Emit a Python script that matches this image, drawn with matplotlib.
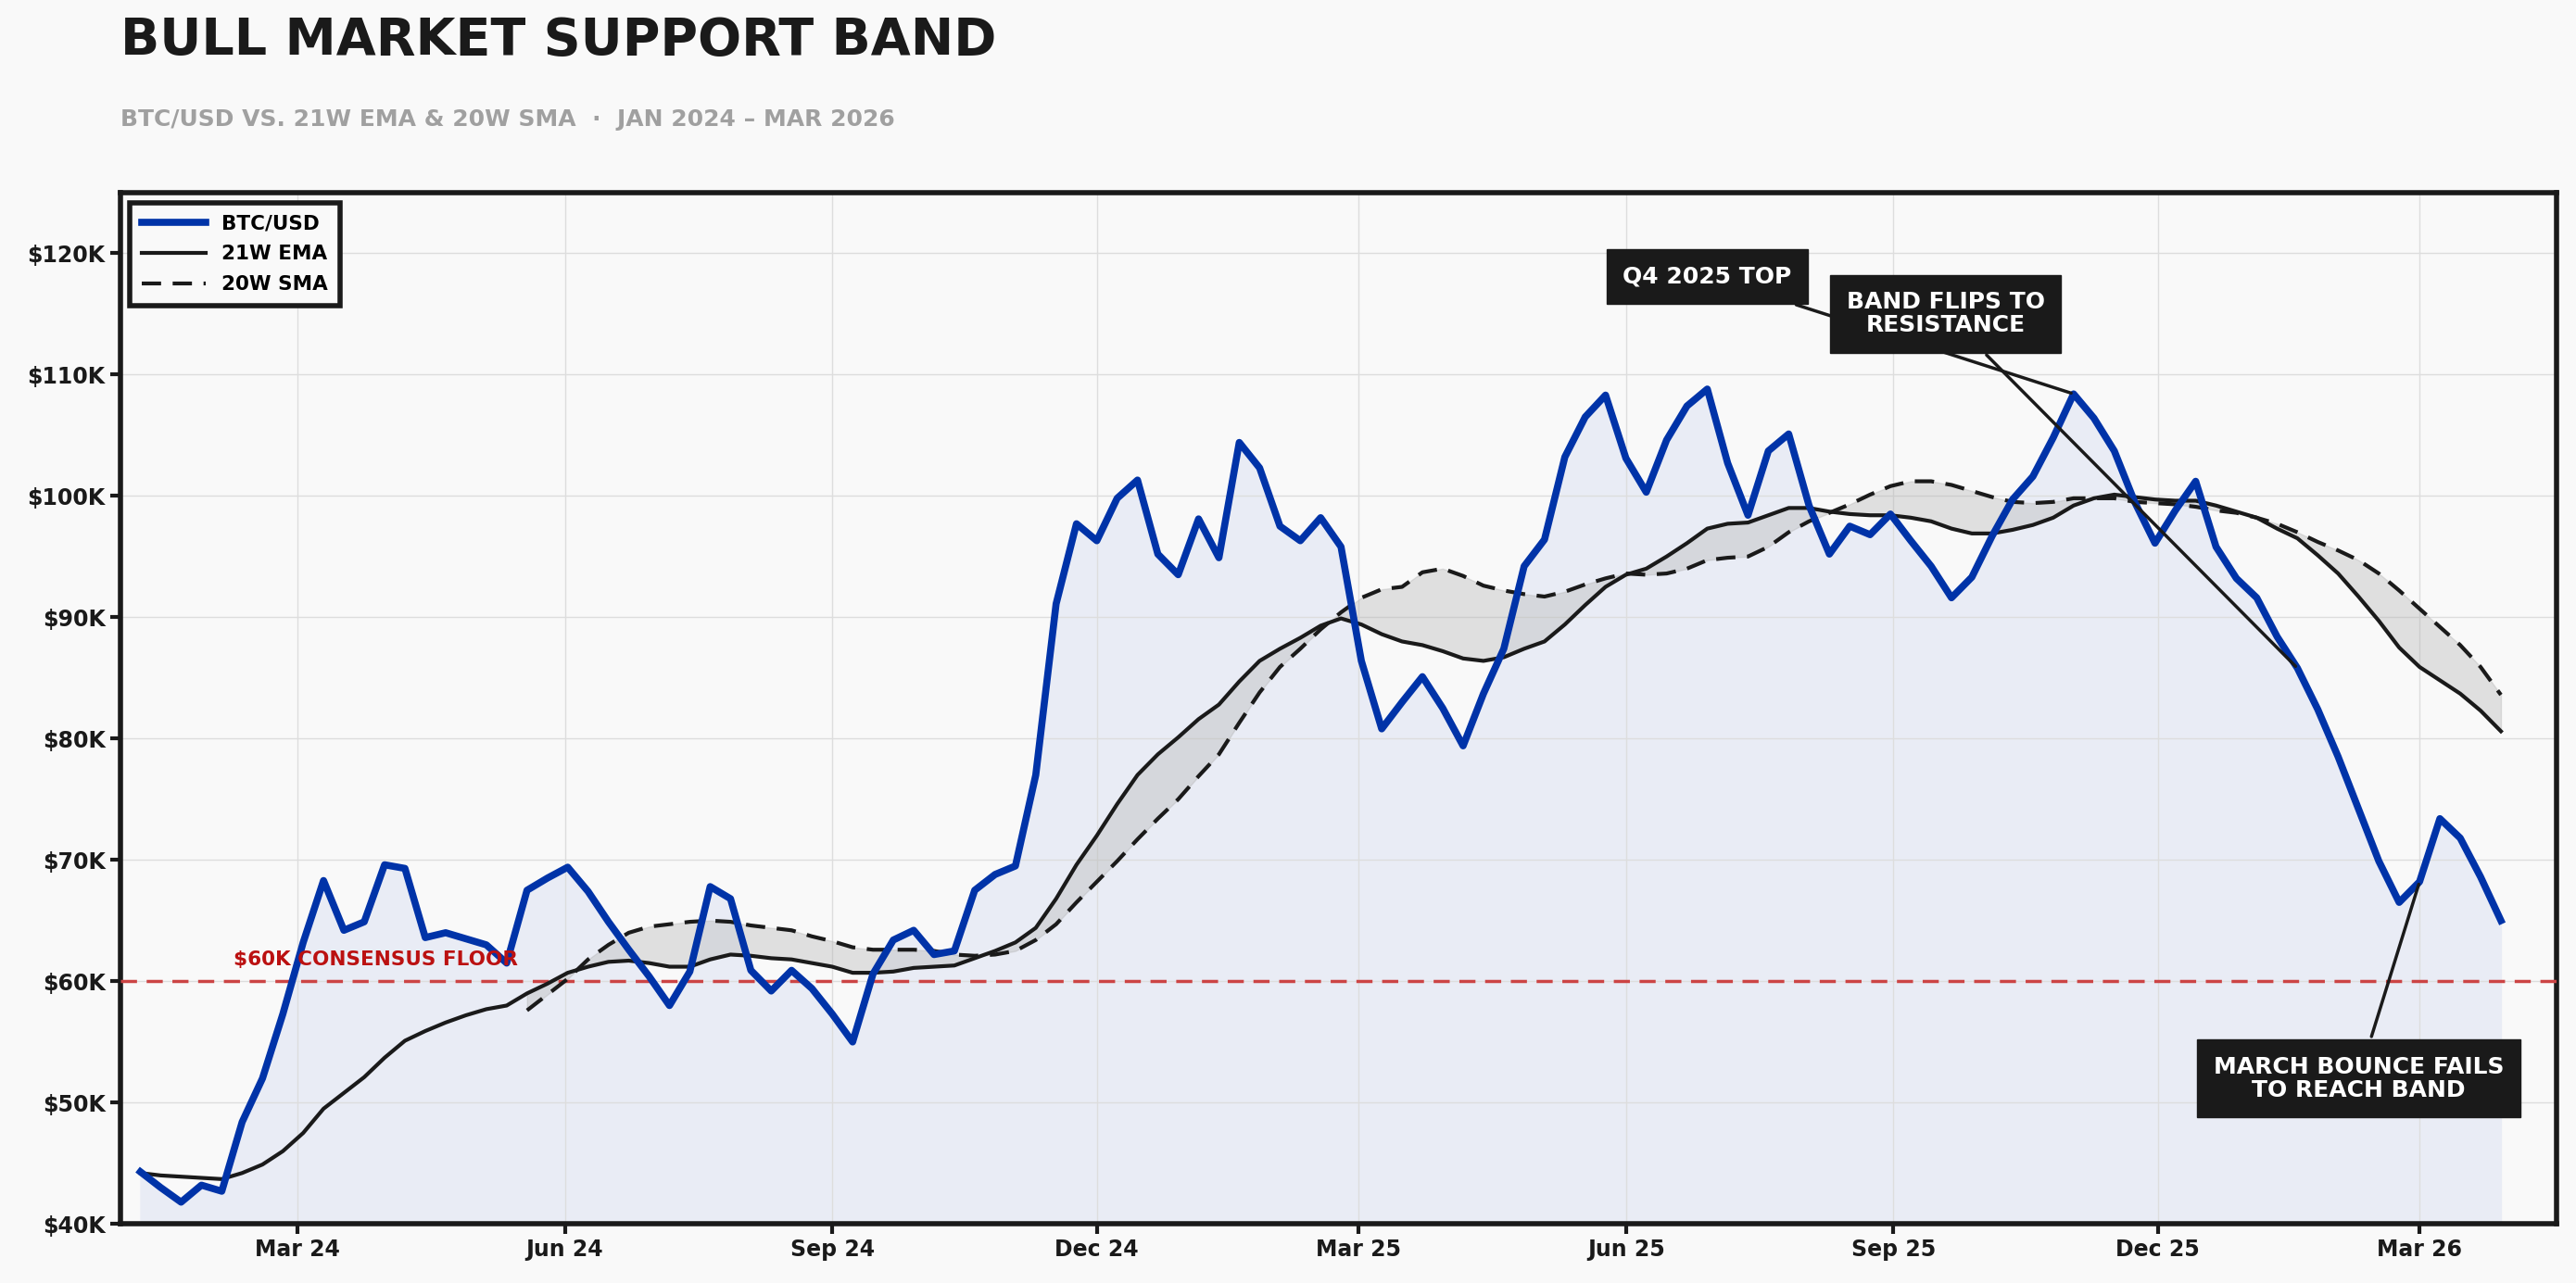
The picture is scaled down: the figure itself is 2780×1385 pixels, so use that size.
import numpy as np
import pandas as pd
import matplotlib.pyplot as plt
import matplotlib.dates as mdates
from matplotlib.ticker import FuncFormatter

# weekly closes, $K
btc = [44.3, 43.0, 41.8, 43.2, 42.7, 48.4, 52.0, 57.3, 63.2, 68.3, 64.2, 64.9, 69.6, 69.3, 63.6, 64.0,
       63.5, 63.0, 61.5, 67.5, 68.5, 69.4, 67.4, 64.9, 62.6, 60.4, 58.0, 60.8, 67.8, 66.8, 60.9,
       59.2, 60.9, 59.4, 57.3, 55.0, 60.6, 63.4, 64.2, 62.2, 62.5, 67.5, 68.8, 69.5, 77.0, 91.1,
       97.7, 96.3, 99.8, 101.3, 95.2, 93.5, 98.1, 94.9, 104.4, 102.3, 97.5, 96.3, 98.2, 95.8, 86.4, 80.8,
       83.0, 85.1, 82.5, 79.4, 83.7, 87.4, 94.2, 96.4, 103.2, 106.5, 108.3, 103.1, 100.3, 104.6, 107.4,
       108.8, 102.7, 98.4, 103.7, 105.1, 99.2, 95.2, 97.5, 96.8, 98.5, 96.3, 94.2, 91.6, 93.3,
       96.7, 99.7, 101.6, 104.8, 108.4, 106.4, 103.7, 99.5, 96.1, 98.8, 101.2, 95.8, 93.2, 91.6, 88.4,
       85.8, 82.4, 78.5, 74.2, 69.9, 66.5, 68.2, 73.4, 71.8, 68.6, 65.0]
ema21 = [44.2, 44.0, 43.9, 43.8, 43.7, 44.2, 44.9, 46.0, 47.5, 49.5, 50.8, 52.1, 53.7, 55.1, 55.9, 56.6,
         57.2, 57.7, 58.0, 59.0, 59.8, 60.7, 61.2, 61.6, 61.7, 61.5, 61.2, 61.2, 61.8, 62.2, 62.1,
         61.9, 61.8, 61.5, 61.2, 60.7, 60.7, 60.8, 61.1, 61.2, 61.3, 61.9, 62.5, 63.2, 64.4, 66.8,
         69.6, 72.0, 74.6, 77.0, 78.7, 80.1, 81.6, 82.8, 84.7, 86.4, 87.4, 88.3, 89.3, 89.9, 89.4, 88.6,
         88.0, 87.7, 87.2, 86.6, 86.4, 86.7, 87.4, 88.0, 89.4, 91.0, 92.5, 93.5, 94.0, 95.0, 96.1,
         97.3, 97.7, 97.8, 98.4, 99.0, 99.0, 98.7, 98.5, 98.4, 98.4, 98.2, 97.9, 97.3, 96.9,
         96.9, 97.2, 97.6, 98.2, 99.2, 99.8, 100.1, 99.9, 99.7, 99.6, 99.6, 99.2, 98.7, 98.2, 97.3,
         96.5, 95.1, 93.6, 91.7, 89.7, 87.5, 85.9, 84.8, 83.7, 82.3, 80.6]
sma20 = [np.nan] * 19 + [57.6, 58.9, 60.2, 61.8, 63.0, 64.0, 64.5, 64.7, 64.9, 65.0, 64.9, 64.6,
         64.4, 64.2, 63.7, 63.3, 62.8, 62.6, 62.6, 62.6, 62.5, 62.2, 62.1, 62.2, 62.5, 63.4, 64.7,
         66.5, 68.2, 69.9, 71.7, 73.4, 75.0, 76.9, 78.7, 81.3, 83.8, 85.9, 87.4, 89.0, 90.4, 91.6, 92.3,
         92.5, 93.7, 94.0, 93.4, 92.6, 92.2, 91.9, 91.7, 92.1, 92.7, 93.2, 93.6, 93.5, 93.6, 94.0,
         94.7, 94.9, 95.0, 95.8, 97.0, 97.9, 98.6, 99.3, 100.1, 100.8, 101.2, 101.2, 100.9, 100.4,
         99.9, 99.5, 99.4, 99.5, 99.8, 99.8, 99.8, 99.5, 99.4, 99.3, 99.1, 98.8, 98.6, 98.2, 97.7,
         97.0, 96.2, 95.5, 94.7, 93.6, 92.2, 90.7, 89.2, 87.7, 85.9, 83.6]
dates = pd.date_range('2024-01-07', periods=len(btc), freq='W')

btc = np.array(btc)
ema21 = np.array(ema21)
sma20 = np.array(sma20)

plt.rcParams['font.family'] = ['DejaVu Sans']
bg = '#f9f9f9'
fig = plt.figure(figsize=(27.8, 13.85), dpi=100, facecolor=bg)
ax = fig.add_axes([0.0466, 0.046, 0.9457, 0.804], facecolor=bg)

ax.fill_between(dates, 40, btc, color='#e9ecf5', zorder=1)
ok = ~np.isnan(sma20)
ax.fill_between(dates[ok], ema21[ok], sma20[ok], color='#b0b0b0', alpha=0.35, zorder=2)
ax.plot(dates, btc, color='#0033a8', lw=5.5, label='BTC/USD', zorder=5)
ax.plot(dates, ema21, color='#1a1a1a', lw=3, label='21W EMA', zorder=4)
ax.plot(dates, sma20, color='#1a1a1a', lw=3, ls=(0, (5, 3)), label='20W SMA', zorder=4)

ax.axhline(60, color='#cc4444', lw=2.5, ls=(0, (5, 3)), zorder=3)
ax.text(pd.Timestamp('2024-02-08'), 61.3, '$60K CONSENSUS FLOOR', color='#bb1111',
        fontsize=15.5, fontweight='bold', zorder=6)

ax.set_ylim(40, 125)
ax.set_xlim(pd.Timestamp('2023-12-31'), pd.Timestamp('2026-04-17'))
ax.yaxis.set_major_locator(plt.MultipleLocator(10))
ax.yaxis.set_major_formatter(FuncFormatter(lambda v, p: f'${v:.0f}K'))
ax.xaxis.set_major_locator(mdates.MonthLocator(bymonth=[3, 6, 9, 12]))
ax.xaxis.set_major_formatter(mdates.DateFormatter('%b %y'))
ax.tick_params(labelsize=17, width=3, length=8, color='#1a1a1a')
for lab in ax.get_xticklabels() + ax.get_yticklabels():
    lab.set_fontweight('bold')
    lab.set_color('#1a1a1a')
ax.grid(True, color='#dddddd', lw=1)
for s in ax.spines.values():
    s.set_linewidth(4)
    s.set_color('#1a1a1a')

leg = ax.legend(loc='upper left', prop={'weight': 'bold', 'size': 15.5},
                fancybox=False, framealpha=1, facecolor=bg, edgecolor='#1a1a1a',
                handlelength=3.2, borderpad=0.6, labelspacing=0.6)
leg.get_frame().set_linewidth(4)

box = dict(boxstyle='square,pad=0.7', fc='#1a1a1a', ec='#1a1a1a')
akw = dict(arrowstyle='-', color='#1a1a1a', lw=2.5)
ax.annotate('Q4 2025 TOP', xy=(dates[95], btc[95]), xytext=(pd.Timestamp('2025-06-29'), 118.1),
            ha='center', va='center', color='white', fontsize=18, fontweight='bold',
            bbox=box, arrowprops=akw, zorder=7)
ax.annotate('BAND FLIPS TO\nRESISTANCE', xy=(dates[106], btc[106]),
            xytext=(pd.Timestamp('2025-09-19'), 115.0), ha='center', va='center',
            color='white', fontsize=18, fontweight='bold', linespacing=1.05,
            bbox=box, arrowprops=akw, zorder=7)
ax.annotate('MARCH BOUNCE FAILS\nTO REACH BAND', xy=(dates[112], btc[112]),
            xytext=(pd.Timestamp('2026-02-08'), 52.0), ha='center', va='center',
            color='white', fontsize=18, fontweight='bold', linespacing=1.05,
            bbox=box, arrowprops=akw, zorder=7)

fig.text(0.0466, 0.968, 'BULL MARKET SUPPORT BAND', fontsize=40, fontweight='bold',
         color='#1a1a1a', va='center')
fig.text(0.0466, 0.907, 'BTC/USD VS. 21W EMA & 20W SMA  ·  JAN 2024 – MAR 2026', fontsize=18,
         fontweight='bold', color='#a0a0a0', va='center')

fig.savefig('out.png', dpi=100, facecolor=bg)
